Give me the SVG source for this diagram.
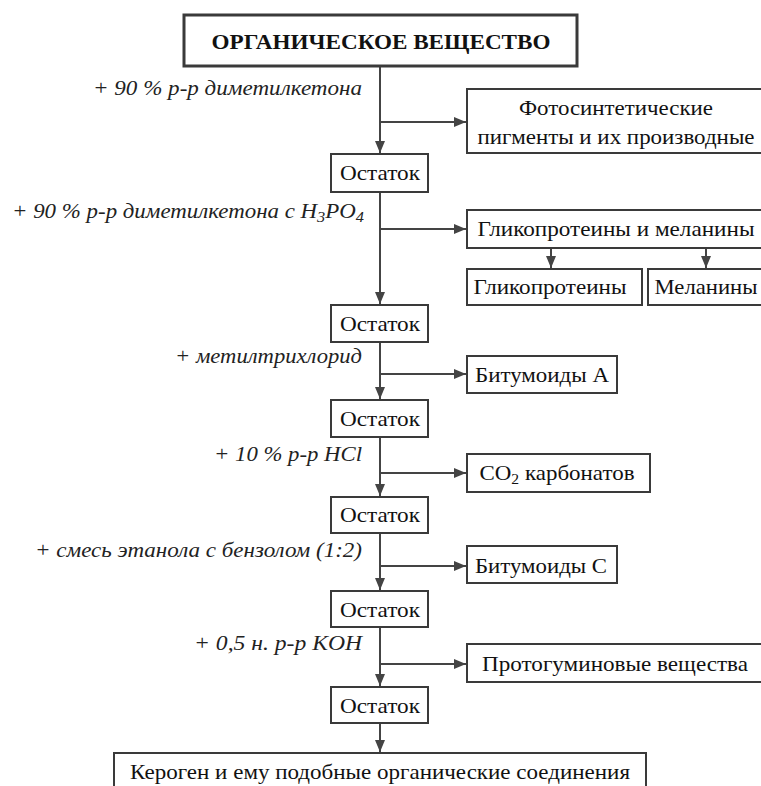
<svg xmlns="http://www.w3.org/2000/svg" width="761" height="786" viewBox="0 0 761 786">
<style>
  text { font-family: 'Liberation Serif', 'DejaVu Serif', serif; }
  .box { fill: #fff; stroke: #3a3a3a; stroke-width: 2; }
  .main { fill: #fff; stroke: #3a3a3a; stroke-width: 3; }
  .t { font-size: 22px; fill: #111; text-anchor: middle; }
  .tb { font-size: 22px; font-weight: bold; fill: #111; text-anchor: middle; }
  .lbl { font-size: 21px; font-style: italic; fill: #222; text-anchor: end; }
  .ln { stroke: #444; stroke-width: 2; fill: none; }
</style>
<defs>
  <marker id="ah" viewBox="0 0 12 10" refX="12" refY="5" markerWidth="12" markerHeight="10" markerUnits="userSpaceOnUse" orient="auto">
    <path d="M0,0 L12,5 L0,10 Z" fill="#444"/>
  </marker>
</defs>
<rect width="761" height="786" fill="#fff"/>

<g id="connectors">
  <line class="ln" x1="380" y1="66" x2="380" y2="153" marker-end="url(#ah)"/>
  <line class="ln" x1="380" y1="122" x2="466" y2="122" marker-end="url(#ah)"/>
  <line class="ln" x1="380" y1="192" x2="380" y2="304" marker-end="url(#ah)"/>
  <line class="ln" x1="380" y1="229" x2="466" y2="229" marker-end="url(#ah)"/>
  <line class="ln" x1="551" y1="248" x2="551" y2="268" marker-end="url(#ah)"/>
  <line class="ln" x1="706" y1="248" x2="706" y2="268" marker-end="url(#ah)"/>
  <line class="ln" x1="380" y1="342" x2="380" y2="399" marker-end="url(#ah)"/>
  <line class="ln" x1="380" y1="374" x2="466" y2="374" marker-end="url(#ah)"/>
  <line class="ln" x1="380" y1="437" x2="380" y2="496" marker-end="url(#ah)"/>
  <line class="ln" x1="380" y1="473" x2="466" y2="473" marker-end="url(#ah)"/>
  <line class="ln" x1="380" y1="533" x2="380" y2="590" marker-end="url(#ah)"/>
  <line class="ln" x1="380" y1="566" x2="466" y2="566" marker-end="url(#ah)"/>
  <line class="ln" x1="380" y1="627" x2="380" y2="686" marker-end="url(#ah)"/>
  <line class="ln" x1="380" y1="664" x2="466" y2="664" marker-end="url(#ah)"/>
  <line class="ln" x1="380" y1="723" x2="380" y2="752" marker-end="url(#ah)"/>
</g>

<g id="labels">
  <text class="lbl" x="362" y="95" textLength="269" lengthAdjust="spacingAndGlyphs">+ 90 % р-р диметилкетона</text>
  <text class="lbl" x="364" y="218" textLength="352" lengthAdjust="spacingAndGlyphs">+ 90 % р-р диметилкетона с H<tspan font-size="15" dy="4">3</tspan><tspan dy="-4">PO</tspan><tspan font-size="15" dy="4">4</tspan></text>
  <text class="lbl" x="362" y="363" textLength="187" lengthAdjust="spacingAndGlyphs">+ метилтрихлорид</text>
  <text class="lbl" x="362" y="461" textLength="148" lengthAdjust="spacingAndGlyphs">+ 10 % р-р HCl</text>
  <text class="lbl" x="362" y="557" textLength="327" lengthAdjust="spacingAndGlyphs">+ смесь этанола с бензолом (1:2)</text>
  <text class="lbl" x="362" y="650" textLength="168" lengthAdjust="spacingAndGlyphs">+ 0,5 н. р-р KOH</text>
</g>

<g id="n-organic">
  <rect class="main" x="184" y="15" width="393" height="51"/>
  <text class="tb" x="381" y="49" textLength="339" lengthAdjust="spacingAndGlyphs">ОРГАНИЧЕСКОЕ ВЕЩЕСТВО</text>
</g>

<g id="n-photo">
  <rect class="box" x="467" y="89" width="296" height="64"/>
  <text class="t" x="616" y="115" textLength="194" lengthAdjust="spacingAndGlyphs">Фотосинтетические</text>
  <text class="t" x="616" y="144" textLength="277" lengthAdjust="spacingAndGlyphs">пигменты и их производные</text>
</g>

<g id="n-ost1">
  <rect class="box" x="331" y="154" width="97" height="38"/>
  <text class="t" x="380" y="180" textLength="80" lengthAdjust="spacingAndGlyphs">Остаток</text>
</g>

<g id="n-glyco-mel">
  <rect class="box" x="467" y="210" width="296" height="38"/>
  <text class="t" x="616" y="236" textLength="277" lengthAdjust="spacingAndGlyphs">Гликопротеины и меланины</text>
</g>

<g id="n-glyco">
  <rect class="box" x="467" y="269" width="175" height="36"/>
  <text class="t" x="550" y="294" textLength="153" lengthAdjust="spacingAndGlyphs">Гликопротеины</text>
</g>

<g id="n-mel">
  <rect class="box" x="648" y="269" width="115" height="36"/>
  <text class="t" x="706" y="294" textLength="103" lengthAdjust="spacingAndGlyphs">Меланины</text>
</g>

<g id="n-ost2">
  <rect class="box" x="331" y="305" width="97" height="37"/>
  <text class="t" x="380" y="331" textLength="80" lengthAdjust="spacingAndGlyphs">Остаток</text>
</g>

<g id="n-bitA">
  <rect class="box" x="467" y="356" width="150" height="37"/>
  <text class="t" x="542" y="382" textLength="134" lengthAdjust="spacingAndGlyphs">Битумоиды А</text>
</g>

<g id="n-ost3">
  <rect class="box" x="331" y="400" width="97" height="37"/>
  <text class="t" x="380" y="426" textLength="80" lengthAdjust="spacingAndGlyphs">Остаток</text>
</g>

<g id="n-co2">
  <rect class="box" x="467" y="454" width="183" height="38"/>
  <text class="t" x="557" y="480" textLength="155" lengthAdjust="spacingAndGlyphs">CO<tspan font-size="15" dy="4">2</tspan><tspan dy="-4"> карбонатов</tspan></text>
</g>

<g id="n-ost4">
  <rect class="box" x="331" y="497" width="97" height="36"/>
  <text class="t" x="380" y="522" textLength="80" lengthAdjust="spacingAndGlyphs">Остаток</text>
</g>

<g id="n-bitC">
  <rect class="box" x="467" y="546" width="150" height="37"/>
  <text class="t" x="541" y="573" textLength="132" lengthAdjust="spacingAndGlyphs">Битумоиды С</text>
</g>

<g id="n-ost5">
  <rect class="box" x="331" y="591" width="97" height="36"/>
  <text class="t" x="380" y="617" textLength="80" lengthAdjust="spacingAndGlyphs">Остаток</text>
</g>

<g id="n-proto">
  <rect class="box" x="467" y="644" width="296" height="38"/>
  <text class="t" x="615" y="671" textLength="266" lengthAdjust="spacingAndGlyphs">Протогуминовые вещества</text>
</g>

<g id="n-ost6">
  <rect class="box" x="331" y="687" width="97" height="36"/>
  <text class="t" x="380" y="713" textLength="80" lengthAdjust="spacingAndGlyphs">Остаток</text>
</g>

<g id="n-kerogen">
  <rect class="box" x="114" y="753" width="532" height="40"/>
  <text class="t" x="380" y="779" textLength="500" lengthAdjust="spacingAndGlyphs">Кероген и ему подобные органические соединения</text>
</g>
</svg>
